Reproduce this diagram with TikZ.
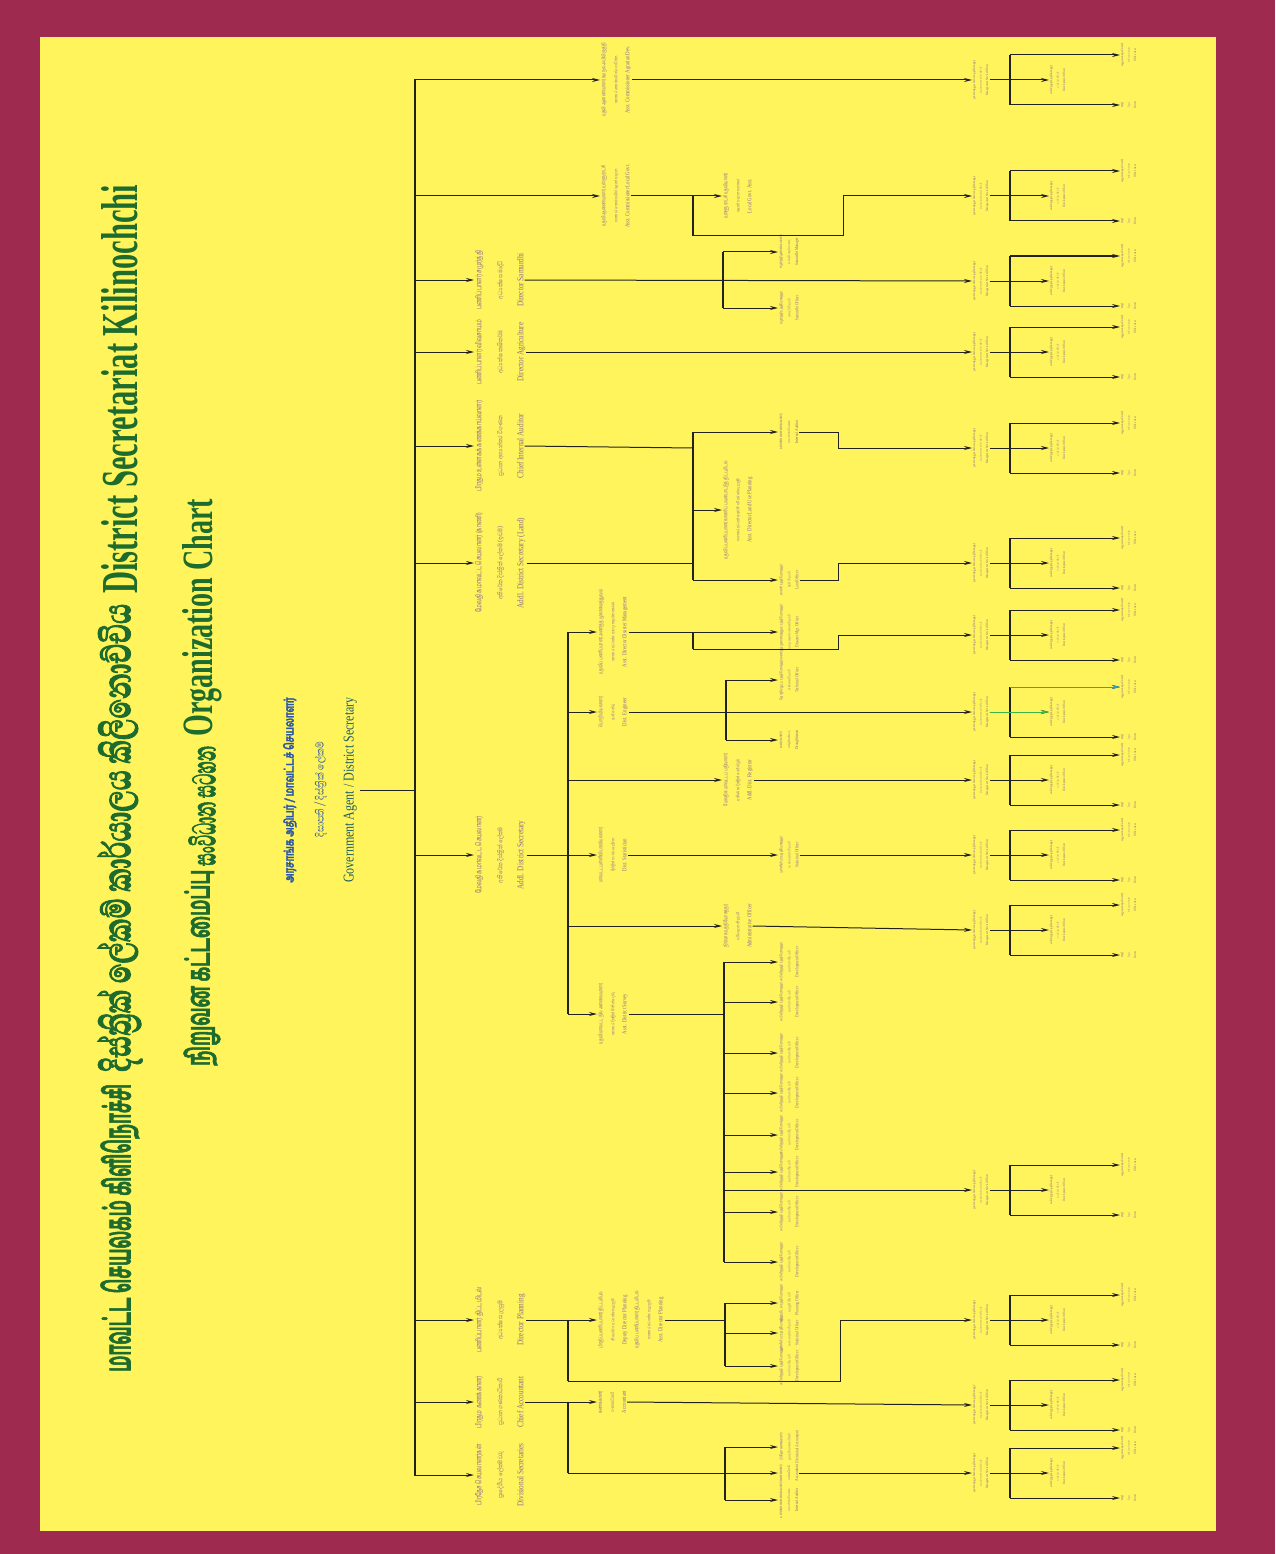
\documentclass[tikz,border=0pt]{standalone}
\usepackage{fontspec}
\usepackage{graphicx}
\setmainfont{Liberation Serif}
\newfontfamily\enfont[FakeStretch=0.8]{Liberation Serif}
\newfontfamily\tafont[Script=Tamil,Scale=0.86,FakeStretch=0.7,BoldFeatures={FakeBold=2}]{Hind Madurai}
\newfontfamily\sifont[Script=Sinhala,Scale=0.9,FakeStretch=0.82,BoldFeatures={FakeBold=2}]{Abhaya Libre}
\usetikzlibrary{positioning,arrows.meta}
\definecolor{frame}{HTML}{9E2A4F}
\definecolor{paper}{HTML}{FFF45C}
\definecolor{titlegreen}{HTML}{1E6B2E}
\definecolor{gablue}{HTML}{2A56A6}
\definecolor{gateal}{HTML}{1F5E63}
\definecolor{labelcol}{HTML}{8C6C8E}
\definecolor{linecol}{HTML}{222222}
\definecolor{arrgreen}{HTML}{3BB54A}
\definecolor{arrblue}{HTML}{2AA0C8}
\newcommand{\tri}[3]{{\tafont #1}\\{\sifont #2}\\{\enfont #3}}
% generic texts for the small boxes
\newcommand{\txms}{\tri{முகாமைத்துவ சேவை உத்தியோகத்தர்}{කළමනාකරණ සේවා නිලධාරී}{Management Service Officer}}
\newcommand{\txdo}{\tri{அபிவிருத்தி உத்தியோகத்தர்}{සංවර්ධන නිලධාරී}{Development Officer}}
\newcommand{\txoa}{\tri{அலுவலக உதவியாளர்}{කාර්යාල සහායක}{Office Asst.}}
\newcommand{\txdr}{\tri{சாரதி}{රියදුරු}{Driver}}
\begin{document}
\begin{tikzpicture}[x=1pt,y=-1pt,>={Stealth[length=8pt,width=4pt]},
  ln/.style={line width=1pt,draw=linecol},
  arr/.style={->,line width=1pt,draw=linecol},
  bar/.style={line width=2.4pt,draw=linecol},
  ttl/.style={rotate=90,text=titlegreen,inner sep=0pt,anchor=west},
  ga/.style={rotate=90,align=center,text=gablue,font=\fontsize{15}{30}\selectfont},
  lbl/.style={rotate=90,align=center,anchor=north,inner sep=1pt,text=labelcol,font=\fontsize{9}{21}\selectfont},
  sub/.style={rotate=90,align=center,anchor=north,inner sep=1pt,text=labelcol,font=\fontsize{6}{12}\selectfont},
  mid/.style={rotate=90,align=center,anchor=north,inner sep=1pt,text=labelcol,font=\fontsize{4.5}{8}\selectfont},
  mini/.style={rotate=90,align=center,anchor=north,inner sep=0.5pt,text=labelcol,font=\fontsize{3.4}{6.5}\selectfont}]
\fill[frame] (0,0) rectangle (1275,1554);
\fill[paper] (40,37) rectangle (1216,1531);
\useasboundingbox (0,0) rectangle (1275,1554);

% title
\node[ttl] (ttl1ta) at (120,1372) {\resizebox{288pt}{30pt}{\tafont\bfseries மாவட்ட செயலகம் கிளிநொச்சி}};
\node[ttl] (ttl1si) at (120,1072) {\resizebox{468pt}{33pt}{\sifont\bfseries දිස්ත්‍රික් ලේකම් කාර්යාලය කිලිනොච්චිය}};
\node[ttl] (ttl1en) at (120,594) {\resizebox{409pt}{36pt}{\enfont\bfseries District Secretariat Kilinochchi}};
\node[ttl] (ttl2ta) at (202,1066) {\resizebox{196pt}{26pt}{\tafont\bfseries நிறுவன கட்டமைப்பு}};
\node[ttl] (ttl2si) at (202,866) {\resizebox{120pt}{27pt}{\sifont\bfseries සංවිධාන සටහන}};
\node[ttl] (ttl2en) at (202,737) {\resizebox{238pt}{30pt}{\enfont\bfseries Organization Chart}};

% head
\node[ga] (ga) at (320,790) {{\tafont\bfseries அரசாங்க அதிபர் / மாவட்டச் செயலாளர்}\\{\sifont දිසාපති / දිස්ත්‍රික් ලේකම්}\\{\enfont\color{gateal}Government Agent / District Secretary}};
\coordinate (trtop) at (415,79);
\coordinate (trbot) at (415,1476);
\draw[bar] (trtop) -- (trbot);
\draw[ln] (ga.south) -- (ga.south -| trtop);

% first level
\node[lbl] (divsec) at (474,1475) {\tri{பிரதேச செயலாளர்கள்}{ප්‍රාදේශීය ලේකම්වරු}{Divisional Secretaries}};
\node[lbl] (chacc) at (474,1402) {\tri{பிரதம கணக்காளர்}{ප්‍රධාන ගණකාධිකාරී}{Chief Accountant}};
\node[lbl] (dirpln) at (474,1320) {\tri{பணிப்பாளர் திட்டமிடல்}{අධ්‍යක්ෂ සැලසුම්}{Director Planning}};
\node[lbl] (addsec) at (474,855) {\tri{மேலதிக மாவட்ட செயலாளர்}{අතිරේක දිස්ත්‍රික් ලේකම්}{Addl. District Secretary}};
\node[lbl] (addland) at (474,563) {\tri{மேலதிக மாவட்ட செயலாளர் (காணி)}{අතිරේක දිස්ත්‍රික් ලේකම් (ඉඩම්)}{Addl. District Secretary (Land)}};
\node[lbl] (chaud) at (474,446) {\tri{பிரதம உள்ளகக் கணக்காய்வாளர்}{ප්‍රධාන අභ්‍යන්තර විගණක}{Chief Internal Auditor}};
\node[lbl] (diragr) at (474,352) {\tri{பணிப்பாளர் விவசாயம்}{අධ්‍යක්ෂ කෘෂිකර්ම}{Director Agriculture}};
\node[lbl] (dirsam) at (474,280) {\tri{பணிப்பாளர் சமுர்த்தி}{අධ්‍යක්ෂ සමෘද්ධි}{Director Samurdhi}};
\node[sub] (aclg) at (600,196) {\tri{உதவி ஆணையாளர் உள்ளூராட்சி}{සහකාර කොමසාරිස් පළාත් පාලන}{Asst. Commissioner Local Govt.}};
\node[sub] (acagr) at (600,80) {\tri{உதவி ஆணையாளர் கமநல அபிவிருத்தி}{සහකාර කොමසාරිස් ගොවිජන}{Asst. Commissioner Agrarian Dev.}};
\foreach \n in {divsec,chacc,dirpln,addsec,addland,chaud,diragr,dirsam,aclg,acagr}
  \draw[arr] (trtop |- \n.north) -- (\n.north);

% bottom blocks
\foreach \k/\yy in {1/80,2/196,3/281,4/352,5/448,6/563,7/635,8/712,9/780,10/855,11/930,12/1190,13/1320,14/1405,15/1473}{
  \node[mini] (blkA\k) at (972,\yy) {\txms};
  \node[mini] (blkB\k) at (1049,\yy) {\txdo};
  \node[mini] (blkC\k) at (1120,\yy-25) {\txoa};
  \node[mini] (blkD\k) at (1120,\yy+25) {\txdr};
  \coordinate (brk\k) at (1010,\yy);
  \draw[arr] (blkA\k.south) -- (blkB\k.north);
  \draw[bar] (brk\k |- blkC\k.north) -- (brk\k |- blkD\k.north);
  \draw[arr] (brk\k |- blkC\k.north) -- (blkC\k.north);
  \draw[arr] (brk\k |- blkD\k.north) -- (blkD\k.north);
}
\draw[arr,draw=arrgreen] (blkA8.south) -- (blkB8.north);
\draw[arr,draw=arrblue] (brk8 |- blkC8.north) -- (blkC8.north);

% chief accountant
\coordinate (cabr) at (568,1402);
\node[sub] (accnt) at (597,1402) {\tri{கணக்காளர்}{ගණකාධිකාරී}{Accountant}};
\draw[ln] (chacc.south) -- (cabr);
\draw[bar] (cabr) -- (568,1473) coordinate (cabot);
\draw[arr] (cabr) -- (accnt.north);
\draw[arr] (accnt.south) -- (blkA14.north);
\coordinate (dsbr) at (725,1473);
\node[mid] (dsa) at (778,1447) {\tri{பிரதேச கணக்காளர்}{ප්‍රාදේශීය ගණකාධිකාරී}{Divisional Accountant}};
\node[mid] (dsb) at (778,1473) {\tri{கணக்காளர்}{ගණකාධිකාරී}{Accountant}};
\node[mid] (dsc) at (778,1500) {\tri{உள்ளகக் கணக்காய்வாளர்}{අභ්‍යන්තර විගණක}{Internal Auditor}};
\draw[ln] (cabot) -- (dsbr);
\draw[bar] (dsbr |- dsa.north) -- (dsbr |- dsc.north);
\foreach \n in {dsa,dsb,dsc} \draw[arr] (dsbr |- \n.north) -- (\n.north);
\draw[arr] (dsb.south) -- (blkA15.north);

% director planning
\coordinate (dpbr) at (568,1320);
\node[sub] (ddp) at (597,1320) {\tri{பிரதிப் பணிப்பாளர் திட்டமிடல்}{නියෝජ්‍ය අධ්‍යක්ෂ සැලසුම්}{Deputy Director Planning}\\\tri{உதவிப் பணிப்பாளர் திட்டமிடல்}{සහකාර අධ්‍යක්ෂ සැලසුම්}{Asst. Director Planning}};
\draw[ln] (dirpln.south) -- (dpbr);
\draw[bar] (dpbr) -- (568,1381) coordinate (dpbot);
\draw[arr] (dpbr) -- (ddp.north);
\coordinate (jog13) at (840,1381);
\draw[arr] (dpbot) -- (jog13) |- (blkA13.north);
\coordinate (plbr) at (725,1320);
\node[mid] (pla) at (778,1303) {\tri{திட்டமிடல் உத்தியோகத்தர்}{සැලසුම් නිලධාරී}{Planning Officer}};
\node[mid] (plb) at (778,1333) {\tri{புள்ளிவிபர உத்தியோகத்தர்}{සංඛ්‍යාලේඛන නිලධාරී}{Statistical Officer}};
\node[mid] (plc) at (778,1366) {\txdo};
\draw[ln] (ddp.south) -- (plbr);
\draw[bar] (plbr |- pla.north) -- (plbr |- plc.north);
\foreach \n in {pla,plb,plc} \draw[arr] (plbr |- \n.north) -- (\n.north);

% additional district secretary
\coordinate (asbr) at (568,855);
\draw[ln] (addsec.south) -- (asbr);
\draw[bar] (568,632) -- (568,1014);
\node[sub] (asdm) at (597,632) {\tri{உதவிப் பணிப்பாளர் அனர்த்த முகாமைத்துவம்}{සහකාර අධ්‍යක්ෂ ආපදා කළමනාකරණ}{Asst. Director Disaster Management}};
\node[sub] (engr) at (597,712) {\tri{பொறியியலாளர்}{ඉංජිනේරු}{Dist. Engineer}};
\node[sub] (adreg) at (722,780) {\tri{மேலதிக மாவட்டப் பதிவாளர்}{අතිරේක දිස්ත්‍රික් රෙජිස්ට්‍රාර්}{Addl. Dist. Registrar}};
\node[sub] (stat) at (597,855) {\tri{மாவட்ட புள்ளிவிபரவியலாளர்}{දිස්ත්‍රික් සංඛ්‍යාලේඛන}{Dist. Statistician}};
\node[sub] (admo) at (722,926) {\tri{நிர்வாக உத்தியோகத்தர்}{පරිපාලන නිලධාරී}{Administrative Officer}};
\node[sub] (srvy) at (597,1014) {\tri{உதவி மாவட்ட நில அளவையாளர்}{සහකාර දිස්ත්‍රික් මිනින්දෝරු}{Asst. District Survey}};
\foreach \n in {asdm,engr,adreg,stat,admo,srvy} \draw[arr] (asbr |- \n.north) -- (\n.north);
\node[mid] (dmo) at (778,632) {\tri{அனர்த்த முகாமைத்துவ உத்தியோகத்தர்}{ආපදා කළමනාකරණ නිලධාරී}{Disaster Mgt. Officer}};
\draw[arr] (asdm.south) -- (dmo.north);
\coordinate (dmbr) at (693,632);
\coordinate (jog7) at (838,649);
\draw[bar] (dmbr) -- (693,649);
\draw[arr] (693,649) -- (jog7) |- (blkA7.north);
\coordinate (enbr) at (726,712);
\node[mid] (ena) at (778,680) {\tri{தொழில்நுட்ப உத்தியோகத்தர்}{තාක්ෂණ නිලධාරී}{Technical Officer}};
\node[mid] (enb) at (778,740) {\tri{வரைவாளர்}{කෙටුම්පත්කරු}{Draughtsman}};
\draw[arr] (engr.south) -- (blkA8.north);
\draw[bar] (enbr |- ena.north) -- (enbr |- enb.north);
\foreach \n in {ena,enb} \draw[arr] (enbr |- \n.north) -- (\n.north);
\draw[arr] (adreg.south) -- (blkA9.north);
\node[mid] (sto) at (778,855) {\tri{புள்ளிவிபர உத்தியோகத்தர்}{සංඛ්‍යාලේඛන නිලධාරී}{Statistical Officer}};
\draw[arr] (stat.south) -- (sto.north);
\draw[arr] (sto.south) -- (blkA10.north);
\draw[arr] (admo.south) -- (blkA11.north);
\coordinate (svbr) at (724,1014);
\draw[ln] (srvy.south) -- (svbr);
\foreach \k/\yy in {1/962,2/1002,3/1053,4/1093,5/1135,6/1172,7/1212,8/1262}{
  \node[mid] (sv\k) at (778,\yy) {\txdo};
  \draw[arr] (svbr |- sv\k.north) -- (sv\k.north);
}
\draw[bar] (svbr |- sv1.north) -- (svbr |- sv8.north);
\draw[arr] (svbr |- blkA12.north) -- (blkA12.north);

% internal audit and land
\coordinate (aubr) at (693,448);
\draw[ln] (chaud.south) -- (aubr);
\draw[ln] (addland.south) -- (aubr |- addland.south);
\node[mid] (iaud) at (778,432) {\tri{உள்ளகக் கணக்காய்வாளர்}{අභ්‍යන්තර විගණක}{Internal Auditor}};
\node[sub] (adland) at (722,510) {\tri{உதவிப் பணிப்பாளர் காணிப் பயன்பாட்டுத் திட்டமிடல்}{සහකාර අධ්‍යක්ෂ ඉඩම් පරිහරණ සැලසුම්}{Asst. Director Land Use Planning}};
\node[mid] (landof) at (778,580) {\tri{காணி உத்தியோகத்தர்}{ඉඩම් නිලධාරී}{Land Officer}};
\draw[bar] (aubr |- iaud.north) -- (aubr |- landof.north);
\foreach \n in {iaud,adland,landof} \draw[arr] (aubr |- \n.north) -- (\n.north);
\coordinate (jog5) at (838,432);
\coordinate (jog6) at (838,580);
\draw[arr] (iaud.south) -- (jog5) |- (blkA5.north);
\draw[arr] (landof.south) -- (jog6) |- (blkA6.north);

% samurdhi and agriculture
\coordinate (smbr) at (723,280);
\node[mid] (sma) at (778,252) {\tri{சமுர்த்தி முகாமையாளர்}{සමෘද්ධි කළමනාකරු}{Samurdhi Manager}};
\node[mid] (smb) at (778,308) {\tri{சமுர்த்தி உத்தியோகத்தர்}{සමෘද්ධි නිලධාරී}{Samurdhi Officer}};
\draw[arr] (dirsam.south) -- (blkA3.north);
\draw[bar] (smbr |- sma.north) -- (smbr |- smb.north);
\foreach \n in {sma,smb} \draw[arr] (smbr |- \n.north) -- (\n.north);
\draw[arr] (diragr.south) -- (blkA4.north);

% local government and agrarian
\draw[arr] (acagr.south) -- (blkA1.north);
\node[sub] (lgo) at (722,196) {\tri{உள்ளூராட்சி உதவியாளர்}{පළාත් පාලන සහකාර}{Local Govt. Asst.}};
\draw[arr] (aclg.south) -- (lgo.north);
\coordinate (lgbr) at (693,196);
\coordinate (jog2) at (843,236);
\draw[bar] (lgbr) -- (693,236);
\draw[arr] (693,236) -- (jog2) |- (blkA2.north);
\end{tikzpicture}
\end{document}
